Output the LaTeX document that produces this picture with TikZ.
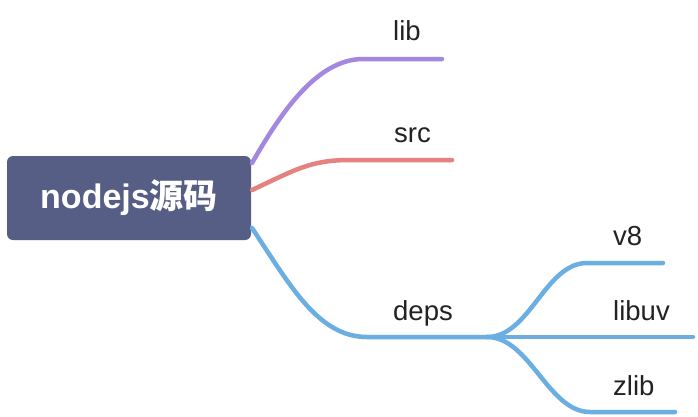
\documentclass[tikz,border=0pt]{standalone}
\usepackage{fontspec}
\setmainfont{Liberation Sans}
\newfontfamily\cjkfont{Noto Sans CJK SC}
\definecolor{rootcol}{HTML}{575E86}
\definecolor{libcol}{HTML}{A487DF}
\definecolor{srccol}{HTML}{E5817F}
\definecolor{depcol}{HTML}{6AAEE2}
\definecolor{txtcol}{HTML}{222222}
\begin{document}
\begin{tikzpicture}[x=1pt,y=-1pt,
  rootbox/.style={fill=rootcol,rounded corners=6pt,minimum width=244pt,minimum height=84pt,inner sep=0pt,text=white,font=\fontsize{34}{40}\selectfont\bfseries},
  lbl/.style={anchor=base west,inner sep=0pt,text=txtcol,font=\fontsize{27.5}{32}\selectfont},
  branch/.style={line width=4.5pt,line cap=round}]
\useasboundingbox[fill=white] (0,0) rectangle (698,416);
\node[rootbox] (root) at (129,198) {nodejs{\cjkfont\bfseries 源码}};
% labels
\node[lbl] (lib) at (393,40) {lib};
\node[lbl] (src) at (394,142) {src};
\node[lbl] (deps) at (393,320) {deps};
\node[lbl] (v8) at (613,245) {v8};
\node[lbl] (libuv) at (613,320) {libuv};
\node[lbl] (zlib) at (613,395) {zlib};
% coordinates
\coordinate (s1) at (252,163);
\coordinate (s2) at (252,190);
\coordinate (s3) at (252,228);
\coordinate (e1) at (442,59);
\coordinate (e2) at (452,160);
\coordinate (d0) at (487,337);
\coordinate (e4) at (663,263);
\coordinate (e5) at (693,337);
\coordinate (e6) at (675,412);
\draw[branch,libcol] (s1) .. controls (278,118) and (315,59) .. (363,59) -- (e1);
\draw[branch,srccol] (s2) .. controls (295,170) and (310,160) .. (350,160) -- (e2);
\draw[branch,depcol] (s3) .. controls (290,285) and (318,337) .. (367,337) -- (d0);
\draw[branch,depcol] (d0) .. controls (530,337) and (545,263) .. (587,263) -- (e4);
\draw[branch,depcol] (d0) -- (e5);
\draw[branch,depcol] (d0) .. controls (530,337) and (548,412) .. (590,412) -- (e6);
\end{tikzpicture}
\end{document}
